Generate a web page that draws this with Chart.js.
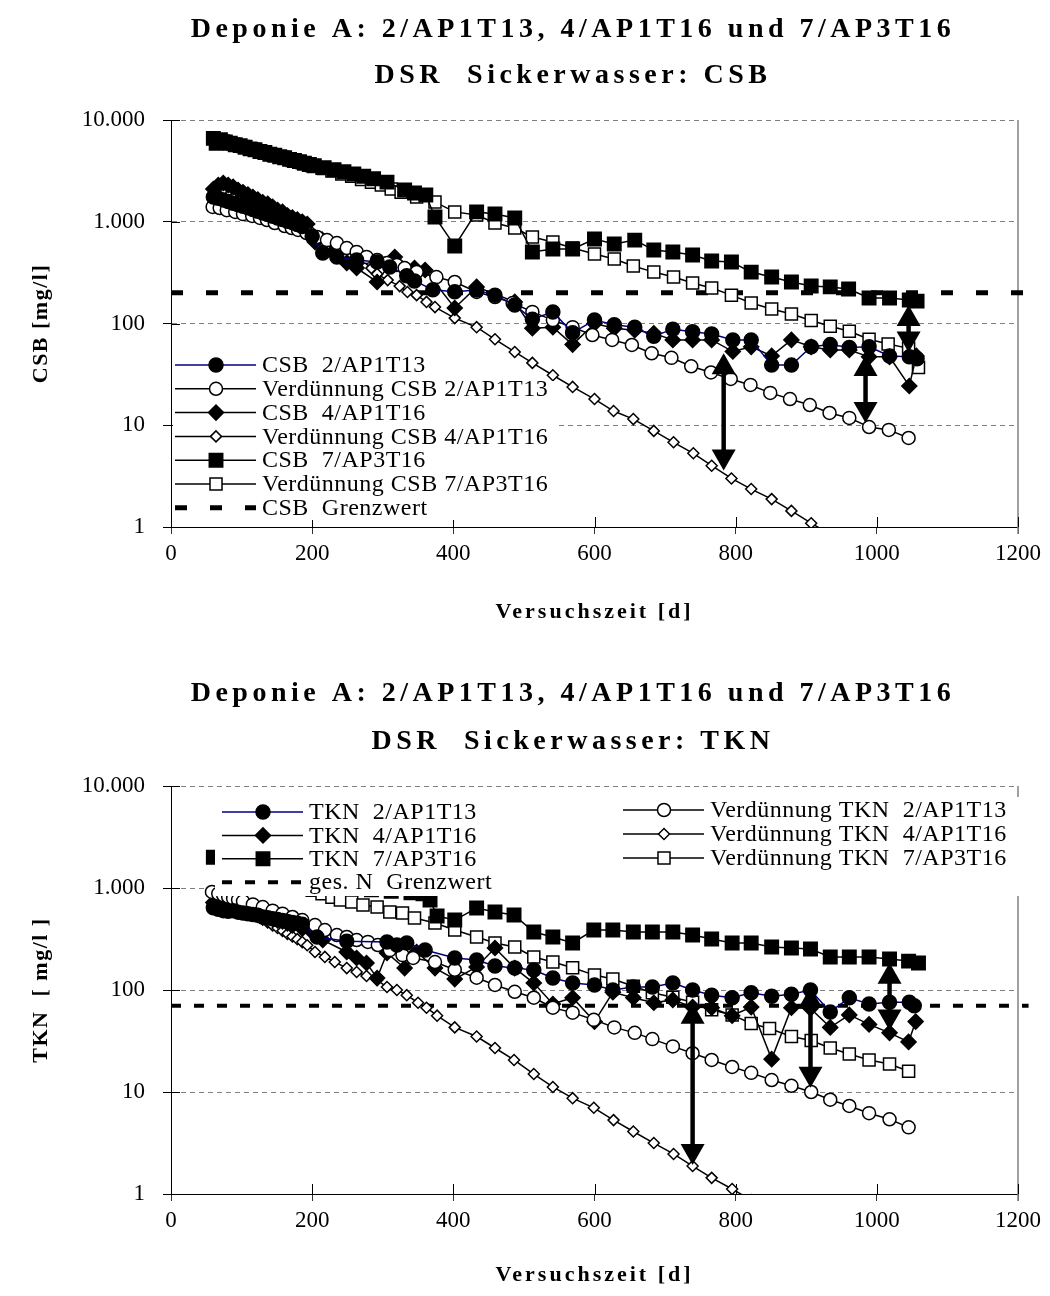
<!DOCTYPE html>
<html>
<head>
<meta charset="utf-8">
<title>Deponie A – CSB / TKN</title>
<script src="https://cdn.jsdelivr.net/npm/chart.js@4.4.1/dist/chart.umd.min.js"></script>
<style>
  body { margin: 0; background: #fff; }
  .panel { position: relative; width: 1050px; height: 648px; }
</style>
</head>
<body>
<div class="panel"><canvas id="csbChart" width="1050" height="648"></canvas></div>
<div class="panel"><canvas id="tknChart" width="1050" height="648"></canvas></div>
<script>
// ---- axis ticks ----
const xTickVals = [0, 200, 400, 600, 800, 1000, 1200];
const yTickVals = [1, 10, 100, 1000, 10000];
const yTickLabels = ['1', '10', '100', '1.000', '10.000'];

// ---- CSB (upper chart) ----
const csbDays2 = [60, 67, 74, 81, 88, 95, 102, 109, 116, 123, 130, 137, 144, 151, 158, 165, 172, 179, 186, 200, 215, 235, 263, 292, 310, 334, 345, 371, 402, 433, 459, 487, 512, 541, 569, 600, 628, 657, 684, 711, 739, 766, 796, 822, 851, 879, 907, 934, 961, 989, 1018, 1046, 1057];
const csbVals2 = [1750, 1700, 1640, 1580, 1520, 1470, 1420, 1370, 1320, 1270, 1220, 1180, 1130, 1090, 1050, 1010, 980, 940, 900, 720, 493, 451, 421, 402, 360, 295, 262, 215, 205, 213, 190, 152, 110, 130, 81, 108, 97, 92, 75, 88, 83, 79, 69, 69, 39, 39, 59, 62, 58, 59, 48, 47, 45];

const vCsbDays2 = [59, 69, 79, 91, 102, 115, 126, 136, 147, 161, 171, 180, 192, 207, 221, 235, 249, 263, 277, 292, 306, 320, 331, 348, 376, 402, 433, 459, 484, 512, 541, 569, 597, 625, 653, 681, 709, 737, 765, 793, 821, 849, 877, 905, 933, 961, 989, 1017, 1045];
const vCsbVals2 = [1400, 1365, 1300, 1250, 1190, 1140, 1090, 1040, 972, 908, 868, 830, 775, 708, 660, 618, 552, 505, 451, 421, 394, 376, 351, 320, 286, 256, 204, 182, 159, 130, 108, 92, 77, 69, 61.5, 51, 46, 38, 33, 28.5, 24.9, 20.8, 18.1, 15.8, 13.2, 11.8, 9.6, 9.0, 7.5];

const csbDays4 = [60, 67, 74, 81, 88, 95, 102, 109, 116, 123, 130, 137, 144, 151, 158, 165, 172, 179, 186, 193, 204, 229, 249, 263, 292, 317, 345, 360, 402, 433, 487, 512, 541, 569, 600, 628, 657, 684, 711, 739, 766, 796, 822, 851, 879, 907, 934, 961, 989, 1018, 1046, 1056];
const csbVals4 = [2100, 2300, 2400, 2300, 2200, 2050, 1950, 1850, 1750, 1650, 1550, 1500, 1400, 1300, 1250, 1150, 1100, 1050, 1000, 950, 632, 505, 394, 351, 256, 451, 351, 336, 142, 229, 163, 90, 92, 62, 100, 90, 86, 80, 69, 69, 69, 53, 59, 48, 69, 59, 55, 55, 47, 47, 24.3, 48];

const vCsbDays4 = [60, 67, 74, 81, 88, 95, 102, 109, 116, 123, 130, 137, 144, 151, 158, 165, 172, 179, 186, 200, 214, 228, 242, 256, 270, 284, 292, 307, 324, 335, 348, 362, 374, 402, 433, 459, 487, 512, 541, 569, 600, 627, 655, 684, 712, 740, 766, 794, 822, 851, 879, 907, 935];
const vCsbVals4 = [2100, 2000, 1900, 1800, 1720, 1640, 1560, 1490, 1420, 1350, 1290, 1230, 1170, 1110, 1060, 1010, 960, 910, 870, 780, 700, 620, 540, 480, 420, 350, 306, 267, 233, 204, 190, 163, 145, 113, 92, 70, 52.5, 41, 31, 23.8, 18.1, 13.8, 11.5, 8.8, 6.8, 5.3, 4.0, 3.0, 2.36, 1.88, 1.44, 1.09, 0.84];

const csbDays7 = [60, 64, 70, 77, 84, 91, 98, 105, 112, 119, 126, 133, 140, 147, 154, 161, 168, 175, 182, 189, 196, 203, 217, 231, 245, 259, 273, 287, 306, 331, 345, 361, 374, 402, 433, 459, 487, 512, 541, 569, 600, 628, 657, 684, 711, 739, 766, 794, 822, 851, 879, 907, 934, 960, 989, 1018, 1046, 1057];
const csbVals7 = [6600, 5900, 6400, 6100, 5900, 5700, 5600, 5400, 5200, 5100, 4900, 4800, 4600, 4500, 4350, 4250, 4100, 4000, 3900, 3750, 3650, 3550, 3400, 3250, 3100, 2950, 2800, 2650, 2450, 2050, 1920, 1830, 1115, 578, 1250, 1190, 1090, 505, 540, 540, 676, 605, 660, 527, 505, 471, 411, 402, 320, 286, 256, 234, 229, 218, 178, 178, 170, 166];

const vCsbDays7 = [60, 74, 88, 102, 116, 130, 144, 158, 172, 186, 200, 214, 228, 242, 256, 270, 284, 298, 312, 326, 348, 374, 402, 433, 459, 487, 512, 541, 569, 600, 628, 655, 684, 712, 739, 766, 794, 822, 851, 879, 907, 934, 961, 989, 1016, 1045, 1059];
const vCsbVals7 = [6600, 6200, 5800, 5500, 5150, 4850, 4550, 4300, 4000, 3800, 3550, 3350, 3150, 2950, 2800, 2600, 2450, 2300, 2100, 1950, 1750, 1560, 1250, 1165, 972, 868, 709, 632, 552, 482, 431, 367, 320, 286, 250, 223, 190, 159, 139, 124, 107, 94, 84, 70, 63, 57, 37];

const csbLimit = 200;
const csbArrowDays = [783, 984, 1045];
const csbArrowTop = [51, 49, 152];
const csbArrowBottom = [3.6, 10.5, 52];

// ---- TKN (lower chart) ----
const tknDays2 = [60, 67, 74, 81, 88, 95, 102, 109, 116, 123, 130, 137, 144, 151, 158, 165, 172, 179, 186, 207, 249, 306, 320, 334, 360, 402, 433, 459, 487, 514, 541, 569, 600, 626, 655, 682, 711, 739, 766, 795, 822, 851, 879, 906, 934, 961, 989, 1018, 1046, 1053];
const tknVals2 = [640, 620, 600, 590, 600, 580, 570, 560, 550, 540, 520, 510, 500, 490, 480, 470, 460, 450, 440, 330, 300, 296, 276, 289, 247, 206, 197, 172, 164, 157, 131, 117, 112, 100, 107, 107, 117, 100, 89, 84, 94, 87, 91, 100, 61, 84, 73, 76, 76, 70];

const vTknDays2 = [58, 67, 74, 81, 88, 95, 102, 116, 130, 144, 158, 172, 186, 204, 218, 235, 249, 263, 279, 293, 310, 328, 343, 374, 402, 433, 459, 487, 514, 541, 569, 599, 628, 657, 682, 711, 739, 766, 795, 822, 851, 879, 907, 934, 961, 989, 1018, 1045];
const vTknVals2 = [914, 880, 850, 820, 790, 765, 740, 690, 650, 600, 560, 520, 485, 433, 387, 346, 331, 309, 296, 276, 246, 220, 206, 188, 158, 132, 112, 96, 84, 67, 60, 51, 43, 38, 33, 28, 24, 20.6, 17.6, 15.4, 13.1, 11.5, 10, 8.4, 7.3, 6.2, 5.4, 4.5];

const tknDays4 = [60, 67, 74, 81, 88, 95, 102, 109, 116, 123, 130, 137, 144, 151, 158, 165, 172, 186, 200, 215, 249, 263, 277, 292, 306, 331, 348, 374, 402, 433, 459, 487, 514, 541, 569, 600, 626, 655, 684, 711, 739, 766, 795, 822, 851, 879, 906, 934, 961, 989, 1018, 1045, 1055];
const tknVals4 = [720, 760, 700, 680, 650, 640, 620, 600, 580, 560, 540, 520, 500, 480, 470, 450, 430, 400, 370, 309, 236, 206, 184, 131, 231, 164, 236, 164, 128, 168, 258, 164, 117, 73, 84, 49, 95, 84, 75, 80, 68, 67, 56, 68, 21, 67, 66, 43, 57, 46, 38, 31, 49];

const vTknDays4 = [60, 67, 74, 81, 88, 95, 102, 109, 116, 123, 130, 137, 144, 151, 158, 165, 172, 179, 186, 193, 204, 218, 232, 249, 263, 277, 292, 306, 320, 334, 350, 362, 377, 402, 433, 459, 486, 514, 541, 569, 599, 627, 655, 684, 712, 739, 766, 795, 822];
const vTknVals4 = [900, 850, 800, 750, 705, 665, 625, 590, 555, 520, 490, 460, 430, 405, 380, 355, 335, 315, 295, 275, 236, 211, 188, 164, 150, 137, 125, 107, 100, 89, 75, 67, 56, 43, 35, 27, 20.6, 15, 11.2, 8.7, 7.0, 5.3, 4.1, 3.16, 2.47, 1.88, 1.44, 1.12, 0.87];

const tknDays7 = [60, 74, 88, 102, 116, 130, 144, 158, 172, 186, 200, 228, 256, 284, 312, 340, 357, 367, 377, 402, 433, 459, 486, 514, 541, 569, 599, 626, 655, 682, 711, 739, 766, 795, 822, 851, 879, 906, 934, 961, 989, 1018, 1045, 1059];
const tknVals7 = [2000, 1800, 1650, 1550, 1450, 1400, 1300, 1250, 1200, 1150, 1100, 1050, 1000, 960, 930, 900, 880, 760, 531, 485, 636, 582, 543, 370, 331, 289, 387, 387, 370, 370, 370, 346, 316, 289, 289, 264, 258, 252, 211, 211, 211, 201, 192, 184];

const vTknDays7 = [60, 74, 88, 102, 116, 130, 144, 158, 172, 186, 200, 214, 228, 240, 256, 272, 292, 310, 328, 345, 374, 402, 433, 459, 487, 514, 541, 569, 600, 626, 655, 682, 711, 739, 766, 795, 822, 848, 879, 907, 934, 961, 989, 1018, 1045];
const vTknVals7 = [2000, 1850, 1720, 1600, 1480, 1380, 1280, 1190, 1100, 1020, 950, 880, 810, 762, 729, 681, 651, 582, 569, 508, 454, 387, 331, 289, 264, 211, 188, 165, 140, 128, 109, 94, 85, 76, 64, 57, 47, 42, 35, 32, 27, 23.6, 20.6, 18.8, 16];

const tknLimit = 70;
const tknArrowDays = [739, 906, 1018];
const tknArrowTop = [75, 107, 185];
const tknArrowBottom = [1.92, 11, 40];

const limitDays = [0, 1215];

const SERIF = '"Liberation Serif", "Times New Roman", serif';
const NAVY = '#000080';

function pts(days, vals) {
    return days.map((d, i) => ({ x: d, y: vals[i] }));
}

function series(label, days, vals, style, filled, radius, lineColor) {
    return {
        label: label,
        data: pts(days, vals),
        borderColor: lineColor || '#000',
        borderWidth: 1.5,
        pointStyle: style,
        pointRadius: radius,
        pointBackgroundColor: filled ? '#000' : '#fff',
        pointBorderColor: '#000',
        pointBorderWidth: 1.5,
        tension: 0
    };
}

function limitLine(label, value, dash, width) {
    return {
        label: label,
        data: limitDays.map(d => ({ x: d, y: value })),
        borderColor: '#000',
        borderWidth: width,
        borderDash: dash,
        pointRadius: 0,
        clip: { left: 3, top: 0, right: 14, bottom: 0 }
    };
}

// right frame line, inward tick marks, titles
const framePlugin = {
    id: 'frame',
    beforeDatasetsDraw(chart) {
        const { ctx, chartArea: a, scales: { x, y } } = chart;
        ctx.save();
        ctx.strokeStyle = '#808080';
        ctx.lineWidth = 1.5;
        ctx.beginPath();
        ctx.moveTo(a.right, a.top);
        ctx.lineTo(a.right, a.bottom + 7);
        ctx.stroke();
        ctx.strokeStyle = '#000';
        ctx.lineWidth = 1;
        ctx.beginPath();
        xTickVals.forEach(v => {
            const px = Math.round(x.getPixelForValue(v)) + 0.5;
            ctx.moveTo(px, a.bottom);
            ctx.lineTo(px, a.bottom - 10);
        });
        yTickVals.forEach(v => {
            const py = Math.round(y.getPixelForValue(v)) + 0.5;
            ctx.moveTo(a.left, py);
            ctx.lineTo(a.left + 9, py);
        });
        ctx.stroke();
        ctx.restore();
    },
    afterDraw(chart, args, opts) {
        const { ctx, chartArea: a } = chart;
        ctx.save();
        ctx.fillStyle = '#000';
        ctx.textAlign = 'center';
        ctx.textBaseline = 'middle';
        ctx.font = 'bold 28px ' + SERIF;
        ctx.letterSpacing = '4.5px';
        opts.title.forEach((t, i) => ctx.fillText(t, 573, opts.titleY[i]));
        ctx.font = 'bold 22px ' + SERIF;
        ctx.letterSpacing = '3px';
        ctx.fillText(opts.xTitle, (a.left + a.right) / 2, opts.xTitleY);
        ctx.letterSpacing = '1.5px';
        ctx.translate(41, (a.top + a.bottom) / 2);
        ctx.rotate(-Math.PI / 2);
        ctx.fillText(opts.yTitle, 0, 0);
        ctx.restore();
    }
};

// legend drawn inside the plot on a white box
const legendPlugin = {
    id: 'boxLegend',
    afterDatasetsDraw(chart, args, opts) {
        const { ctx } = chart;
        const b = opts.box;
        ctx.save();
        ctx.fillStyle = '#fff';
        ctx.fillRect(b.x, b.y, b.w, b.h);
        ctx.font = '24px ' + SERIF;
        ctx.letterSpacing = '0.5px';
        ctx.textBaseline = 'middle';
        opts.columns.forEach(col => {
            col.items.forEach((idx, row) => {
                const ds = chart.data.datasets[idx];
                const x0 = col.x;
                const yy = col.y + row * col.step;
                ctx.strokeStyle = ds.borderColor;
                ctx.lineWidth = ds.borderWidth;
                ctx.setLineDash(ds.borderDash || []);
                ctx.beginPath();
                ctx.moveTo(x0, yy);
                ctx.lineTo(x0 + 81, yy);
                ctx.stroke();
                ctx.setLineDash([]);
                if (ds.pointRadius > 0) {
                    ctx.fillStyle = ds.pointBackgroundColor;
                    ctx.strokeStyle = ds.pointBorderColor;
                    ctx.lineWidth = ds.pointBorderWidth;
                    Chart.helpers.drawPoint(ctx, {
                        pointStyle: ds.pointStyle,
                        radius: ds.pointRadius,
                        rotation: 0,
                        borderWidth: ds.pointBorderWidth
                    }, x0 + 41, yy);
                }
                ctx.fillStyle = '#000';
                ctx.fillText(ds.label, x0 + 87, yy + 1);
            });
        });
        ctx.restore();
    }
};

// double-headed arrows between measured and diluted values
const arrowPlugin = {
    id: 'gapArrows',
    afterDatasetsDraw(chart, args, opts) {
        const { ctx, scales: { x, y } } = chart;
        const head = 21, half = 12;
        ctx.save();
        ctx.fillStyle = '#000';
        ctx.strokeStyle = '#000';
        ctx.lineWidth = 4.5;
        opts.days.forEach((d, i) => {
            const px = x.getPixelForValue(d);
            const yTop = y.getPixelForValue(opts.top[i]);
            const yBot = y.getPixelForValue(opts.bottom[i]);
            ctx.beginPath();
            ctx.moveTo(px, yTop + head - 1);
            ctx.lineTo(px, yBot - head + 1);
            ctx.stroke();
            ctx.beginPath();
            ctx.moveTo(px, yTop);
            ctx.lineTo(px - half, yTop + head);
            ctx.lineTo(px + half, yTop + head);
            ctx.closePath();
            ctx.fill();
            ctx.beginPath();
            ctx.moveTo(px, yBot);
            ctx.lineTo(px - half, yBot - head);
            ctx.lineTo(px + half, yBot - head);
            ctx.closePath();
            ctx.fill();
        });
        ctx.restore();
    }
};

function buildOptions(cfg) {
    const tickFont = { family: SERIF, size: 23 };
    return {
        responsive: false,
        animation: false,
        events: [],
        layout: { padding: { top: cfg.top, right: 32, left: 0, bottom: 0 } },
        plugins: {
            legend: { display: false },
            tooltip: { enabled: false },
            frame: cfg.frame,
            boxLegend: cfg.legend,
            gapArrows: cfg.arrows
        },
        scales: {
            x: {
                type: 'linear',
                min: 0,
                max: 1200,
                afterFit: s => { s.height = cfg.xHeight; },
                afterBuildTicks: s => { s.ticks = xTickVals.map(v => ({ value: v })); },
                ticks: { font: tickFont, color: '#000', padding: 6, maxRotation: 0, callback: v => String(v) },
                grid: { drawOnChartArea: false, tickLength: 7, tickColor: '#333', tickWidth: 1 },
                border: { color: '#000', width: 1 }
            },
            y: {
                type: 'logarithmic',
                min: 1,
                max: 10000,
                afterFit: s => { s.width = 171; },
                afterBuildTicks: s => { s.ticks = yTickVals.map(v => ({ value: v })); },
                ticks: {
                    font: tickFont,
                    color: '#000',
                    padding: 18,
                    callback: v => {
                        const i = yTickVals.indexOf(v);
                        return i >= 0 ? yTickLabels[i] : '';
                    }
                },
                grid: { color: '#808080', lineWidth: 1, tickLength: 8, tickColor: '#000', tickBorderDash: [] },
                border: { color: '#000', width: 1, dash: [5, 4] }
            }
        }
    };
}

// CSB chart
new Chart(document.getElementById('csbChart'), {
    type: 'line',
    data: {
        datasets: [
            series('CSB  2/AP1T13', csbDays2, csbVals2, 'circle', true, 7, NAVY),
            series('Verdünnung CSB 2/AP1T13', vCsbDays2, vCsbVals2, 'circle', false, 6.5),
            series('CSB  4/AP1T16', csbDays4, csbVals4, 'rectRot', true, 7.5),
            series('Verdünnung CSB 4/AP1T16', vCsbDays4, vCsbVals4, 'rectRot', false, 5.5),
            series('CSB  7/AP3T16', csbDays7, csbVals7, 'rect', true, 9.5),
            series('Verdünnung CSB 7/AP3T16', vCsbDays7, vCsbVals7, 'rect', false, 8.5),
            limitLine('CSB  Grenzwert', csbLimit, [12, 23], 5)
        ]
    },
    options: buildOptions({
        top: 120,
        xHeight: 121,
        frame: {
            title: ['Deponie A: 2/AP1T13, 4/AP1T16 und 7/AP3T16', 'DSR  Sickerwasser: CSB'],
            titleY: [30, 76],
            xTitle: 'Versuchszeit [d]',
            xTitleY: 612,
            yTitle: 'CSB [mg/l]'
        },
        legend: {
            box: { x: 173, y: 381, w: 384, h: 139 },
            columns: [{ x: 175, y: 365, step: 23.8, items: [0, 1, 2, 3, 4, 5, 6] }]
        },
        arrows: { days: csbArrowDays, top: csbArrowTop, bottom: csbArrowBottom }
    }),
    plugins: [framePlugin, legendPlugin, arrowPlugin]
});

// TKN chart
new Chart(document.getElementById('tknChart'), {
    type: 'line',
    data: {
        datasets: [
            series('TKN  2/AP1T13', tknDays2, tknVals2, 'circle', true, 7, NAVY),
            series('Verdünnung TKN  2/AP1T13', vTknDays2, vTknVals2, 'circle', false, 6.5),
            series('TKN  4/AP1T16', tknDays4, tknVals4, 'rectRot', true, 7.5),
            series('Verdünnung TKN  4/AP1T16', vTknDays4, vTknVals4, 'rectRot', false, 5.5),
            series('TKN  7/AP3T16', tknDays7, tknVals7, 'rect', true, 9.5),
            series('Verdünnung TKN  7/AP3T16', vTknDays7, vTknVals7, 'rect', false, 8.5),
            limitLine('ges. N  Grenzwert', tknLimit, [10, 13], 4)
        ]
    },
    options: buildOptions({
        top: 138,
        xHeight: 102,
        frame: {
            title: ['Deponie A: 2/AP1T13, 4/AP1T16 und 7/AP3T16', 'DSR  Sickerwasser: TKN'],
            titleY: [46, 94],
            xTitle: 'Versuchszeit [d]',
            xTitleY: 627,
            yTitle: 'TKN  [ mg/l ]'
        },
        legend: {
            box: { x: 215, y: 149, w: 805, h: 99 },
            columns: [
                { x: 222, y: 164, step: 23.4, items: [0, 2, 4, 6] },
                { x: 623, y: 162, step: 24, items: [1, 3, 5] }
            ]
        },
        arrows: { days: tknArrowDays, top: tknArrowTop, bottom: tknArrowBottom }
    }),
    plugins: [framePlugin, legendPlugin, arrowPlugin]
});
</script>
</body>
</html>
